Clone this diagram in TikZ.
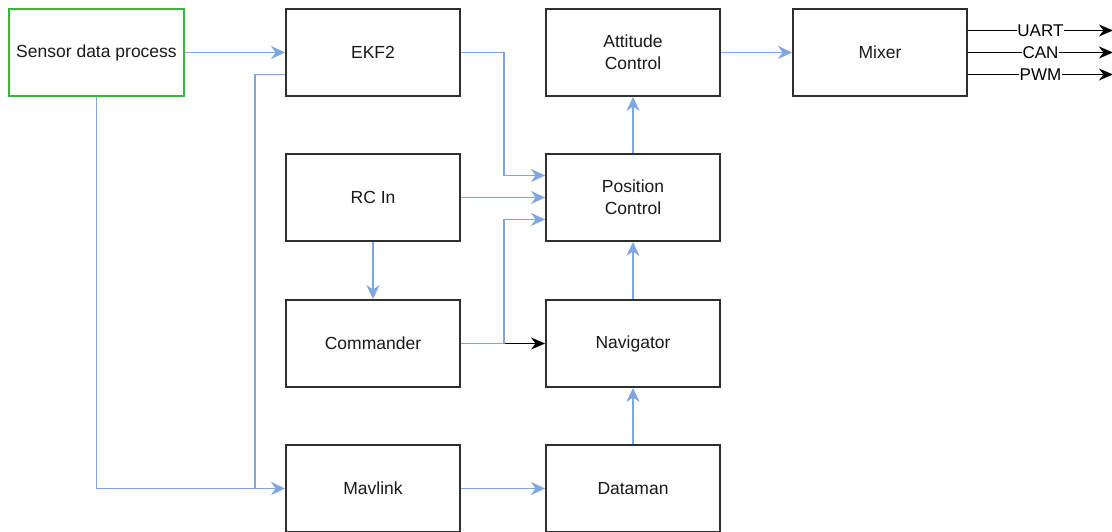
\documentclass[tikz,border=0pt]{standalone}
\usepackage{fontspec}
\setmainfont{Liberation Sans}
\usetikzlibrary{arrows.meta,calc}
\definecolor{flowblue}{HTML}{7EA6E0}
\definecolor{boxgreen}{HTML}{3DB53D}
\definecolor{boxline}{HTML}{2F2F2F}
\tikzset{
  block/.style={draw=boxline, line width=1.9pt, fill=white, minimum width=174pt,
    minimum height=87pt, inner sep=0pt, align=center, text=black!90,
    font=\fontsize{17.5}{22}\selectfont},
  sensorblock/.style={block, draw=boxgreen},
  flow/.style={draw=flowblue, line width=1.9pt,
    -{Stealth[length=14pt,width=13pt,inset=4.5pt]}},
  plainflow/.style={draw=flowblue, line width=1.9pt},
  darkflow/.style={draw=black, line width=1.7pt,
    -{Stealth[length=14pt,width=12pt,inset=4.5pt]}},
  outlabel/.style={fill=white, inner sep=0.5pt, font=\fontsize{17}{20}\selectfont}
}
\begin{document}
\begin{tikzpicture}[x=1pt,y=-1pt]
\useasboundingbox (0,0) rectangle (1112,532);
% blocks
\node[sensorblock, minimum width=175pt] (sen) at (96.5,52.5) {Sensor data process};
\node[block] (ekf) at (373,52.5) {EKF2};
\node[block] (att) at (633,52.5) {Attitude\\Control};
\node[block] (mix) at (880,52.5) {Mixer};
\node[block] (rc)  at (373,197.5) {RC In};
\node[block] (pos) at (633,197.5) {Position\\Control};
\node[block] (cmd) at (373,343.5) {Commander};
\node[block] (nav) at (633,343.5) {Navigator};
\node[block] (mav) at (373,488.5) {Mavlink};
\node[block] (dat) at (633,488.5) {Dataman};

% connectors
\draw[flow] (sen.east) -- (ekf.west);
\draw[flow] (sen.south) |- (mav.west);
\draw[plainflow] ([xshift=-30pt]mav.west) |- ([yshift=-22pt]ekf.west);
\draw[flow] (ekf.east) -- ++(43,0) |- ([yshift=22pt]pos.west);
\draw[flow] (rc.east) -- (pos.west);
\draw[darkflow] (cmd.east) -- (nav.west);
\draw[plainflow] (cmd.east) -- ++(43,0);
\draw[flow] (cmd.east) -- ++(43,0) |- ([yshift=-22pt]pos.west);
\draw[flow] (rc.south) -- (cmd.north);
\draw[flow] (pos.north) -- (att.south);
\draw[flow] (nav.north) -- (pos.south);
\draw[flow] (dat.north) -- (nav.south);
\draw[flow] (mav.east) -- (dat.west);
\draw[flow] (att.east) -- (mix.west);

% mixer outputs
\coordinate (uartend) at ($(mix.east)+(145,-22)$);
\coordinate (canend)  at ($(mix.east)+(145,0)$);
\coordinate (pwmend)  at ($(mix.east)+(145,22)$);
\draw[darkflow] ([yshift=22pt]mix.east) -- (uartend) node[outlabel, pos=0.5] {UART};
\draw[darkflow] (mix.east) -- (canend) node[outlabel, pos=0.5] {CAN};
\draw[darkflow] ([yshift=-22pt]mix.east) -- (pwmend) node[outlabel, pos=0.5] {PWM};
\end{tikzpicture}
\end{document}
